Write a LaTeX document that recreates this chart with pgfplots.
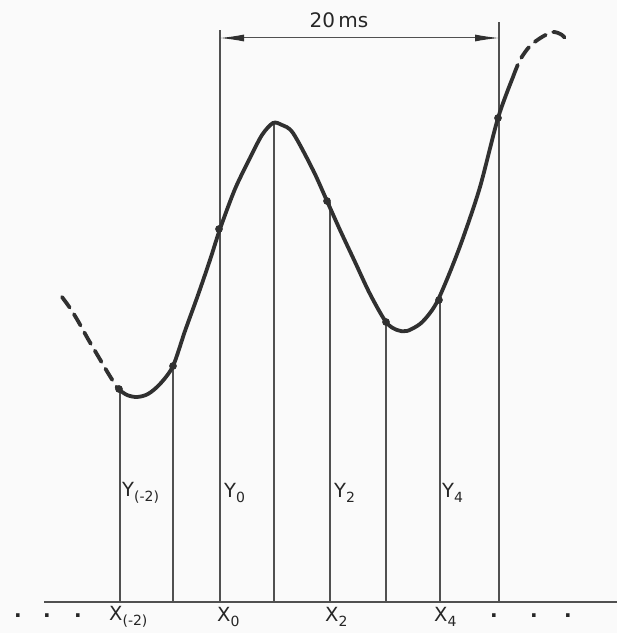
\documentclass[border=0pt]{standalone}
\usepackage{pgfplots}
\pgfplotsset{compat=1.18}
\usepackage{fontspec}
\setmainfont{DejaVu Sans}
\usetikzlibrary{arrows.meta}
\definecolor{ink}{HTML}{303030}
\definecolor{txt}{HTML}{262626}
\definecolor{thinc}{HTML}{505050}
\newcommand{\sub}[1]{\raisebox{-0.45ex}{\fontsize{14}{14}\selectfont #1}}
\tikzset{lbl/.style={text=txt, anchor=west, inner sep=1pt, font=\fontsize{19.5}{20}\selectfont}}
\begin{document}
\begin{tikzpicture}
\begin{axis}[
  width=617pt, height=633pt, scale only axis,
  xmin=0, xmax=617, ymin=-31, ymax=602,
  axis lines=none,
  axis background/.style={fill=black!2},
]
% vertical sample lines
\addplot[ycomb, thinc, line width=1.3pt, mark=none] coordinates {
  (120,213) (173,236) (220,572) (274,479) (330,400) (386,280) (440,304) (499,580)
};
% baseline
\addplot[thinc, line width=1.8pt] coordinates {(44,0) (617,0)};
% dashed start
\addplot[ink, line width=3.8pt, smooth, dash pattern=on 13pt off 8pt, line cap=round] coordinates {
  (62,305) (70,294) (78,281) (88,263) (98,246) (108,229) (118,213)
};
% solid curve
\addplot[ink, line width=3.8pt, smooth] coordinates {
  (118,213) (127,207) (137,205) (148,208) (160,218) (173,236) (185,271) (198,307)
  (210,342) (220,373) (235,413) (250,444) (262,467) (273,479) (282,477) (293,469)
  (313,432) (327,401) (340,372) (355,340) (370,308) (386,280) (397,272) (407,271)
  (420,278) (430,289) (438,302) (450,330) (463,364) (480,415) (498,484) (513,525)
};
% dashed end
\addplot[ink, line width=3.8pt, smooth, dash pattern=on 13pt off 8pt, line cap=round] coordinates {
  (513,525) (520,542) (530,556) (542,565) (553,570) (562,567) (568,560)
};
% sample dots
\addplot[only marks, mark=*, mark size=3.6pt, ink] coordinates {
  (119,213) (173,236) (219,373) (327,401) (386,280) (439,302) (498,484)
};
% dimension arrow
\addplot[thinc, line width=1pt, {Latex[length=24pt,width=7pt,color=ink]}-{Latex[length=24pt,width=7pt,color=ink]}] coordinates {(220,564) (499,564)};
\node[text=txt, font=\fontsize{20}{20}\selectfont] at (axis cs:339,582) {20\,ms};
% Y labels
\node[lbl] at (axis cs:121,109) {Y\sub{(-2)}};
\node[lbl] at (axis cs:223,109) {Y\sub{0}};
\node[lbl] at (axis cs:333,109) {Y\sub{2}};
\node[lbl] at (axis cs:441,109) {Y\sub{4}};
% X labels
\node[lbl] at (axis cs:108,-15) {X\sub{(-2)}};
\node[lbl] at (axis cs:216,-15) {X\sub{0}};
\node[lbl] at (axis cs:324,-15) {X\sub{2}};
\node[lbl] at (axis cs:433,-15) {X\sub{4}};
% dots
\foreach \x in {18,47,78,494,534,568} {
  \edef\tmp{\noexpand\node[text=txt, font=\noexpand\fontsize{20}{20}\noexpand\bfseries\noexpand\selectfont] at (axis cs:\x,-14) {.};}
  \tmp
}
\end{axis}
\end{tikzpicture}
\end{document}
